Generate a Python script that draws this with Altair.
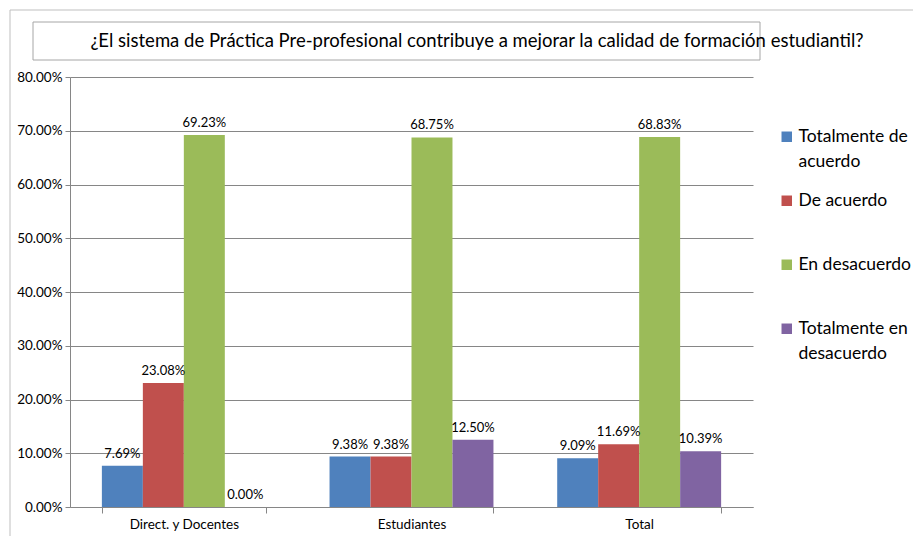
import altair as alt
import pandas as pd

groups = ["Direct. y Docentes", "Estudiantes", "Total"]
series = ["Totalmente de acuerdo", "De acuerdo", "En desacuerdo", "Totalmente en desacuerdo"]
tot_acuerdo = [0.0769, 0.0938, 0.0909]
de_acuerdo = [0.2308, 0.0938, 0.1169]
en_desacuerdo = [0.6923, 0.6875, 0.6883]
tot_desacuerdo = [0.0, 0.1250, 0.1039]
colors = ["#4F81BD", "#C0504D", "#9BBB59", "#8064A2"]
y_ticks = [0, 0.1, 0.2, 0.3, 0.4, 0.5, 0.6, 0.7, 0.8]
title_text = "¿El sistema de Práctica Pre-profesional contribuye a mejorar la calidad de formación estudiantil?"

rows = []
for s, vals in zip(series, [tot_acuerdo, de_acuerdo, en_desacuerdo, tot_desacuerdo]):
    for g, v in zip(groups, vals):
        rows.append({"grupo": g, "serie": s, "valor": v})
df = pd.DataFrame(rows)

FONT = "Lato"
W, H = 683, 430
GRAY = "#868686"

x = alt.X("grupo:N", sort=groups, title=None,
          scale=alt.Scale(paddingInner=0.28, paddingOuter=0.14),
          axis=alt.Axis(labelAngle=0, tickBand="extent", grid=False, domainColor=GRAY,
                        tickColor=GRAY, tickSize=6, labelFontSize=13.5, labelColor="#000",
                        labelPadding=4, labelFont=FONT))
y = alt.Y("valor:Q", title=None, scale=alt.Scale(domain=[0, 0.8], nice=False),
          axis=alt.Axis(format=".2%", values=y_ticks, gridColor=GRAY, domainColor=GRAY,
                        tickColor=GRAY, tickSize=5, labelPadding=3, labelFontSize=13.5,
                        labelColor="#000", labelFont=FONT))
xo = alt.XOffset("serie:N", sort=series, scale=alt.Scale(paddingInner=0, paddingOuter=0))

label_expr = ("datum.label == 'Totalmente de acuerdo' ? ['Totalmente de', 'acuerdo'] : "
              "datum.label == 'Totalmente en desacuerdo' ? ['Totalmente en', 'desacuerdo'] : "
              "[datum.label, '']")

color = alt.Color("serie:N", sort=series, scale=alt.Scale(domain=series, range=colors),
                  legend=alt.Legend(title=None, orient="none", legendX=708, legendY=51,
                                    symbolType="square", symbolSize=110, symbolStrokeWidth=0,
                                    labelFontSize=17.5, labelFont=FONT, labelColor="#000",
                                    labelExpr=label_expr, rowPadding=20, labelOffset=3,
                                    labelLimit=200))

one = pd.DataFrame({"k": [0]})

frame = alt.Chart(one).mark_rect(fill=None, stroke="#BFBFBF", strokeWidth=1).encode(
    x=alt.value(-60), x2=alt.value(W + 400), y=alt.value(-67), y2=alt.value(H + 200))

title_box = alt.Chart(one).mark_rect(fill="white", stroke="#A6A6A6", strokeWidth=1).encode(
    x=alt.value(-37), x2=alt.value(690), y=alt.value(-55), y2=alt.value(-17))

title = alt.Chart(one).mark_text(font=FONT, fontSize=18.5, color="#000", align="center",
                                 baseline="middle").encode(
    x=alt.value(407), y=alt.value(-36), text=alt.value(title_text))

bars = alt.Chart(df).mark_bar(strokeWidth=0).encode(x=x, y=y, xOffset=xo, color=color)

labels = alt.Chart(df).mark_text(baseline="bottom", dy=-5, fontSize=13, font=FONT,
                                 color="#000").encode(
    x=x, y=y, xOffset=xo, text=alt.Text("valor:Q", format=".2%"))

chart = alt.layer(frame, title_box, title, bars, labels).properties(
    width=W, height=H,
    autosize=alt.AutoSizeParams(type="none"),
    padding={"left": 62, "top": 69, "right": 160, "bottom": 29},
).configure(
    background="white",
    view=alt.ViewConfig(stroke=None),
    style={"guide-label": {"lineHeight": 25}},
)

chart.save("out.html", embed_options={"renderer": "svg", "actions": False})
